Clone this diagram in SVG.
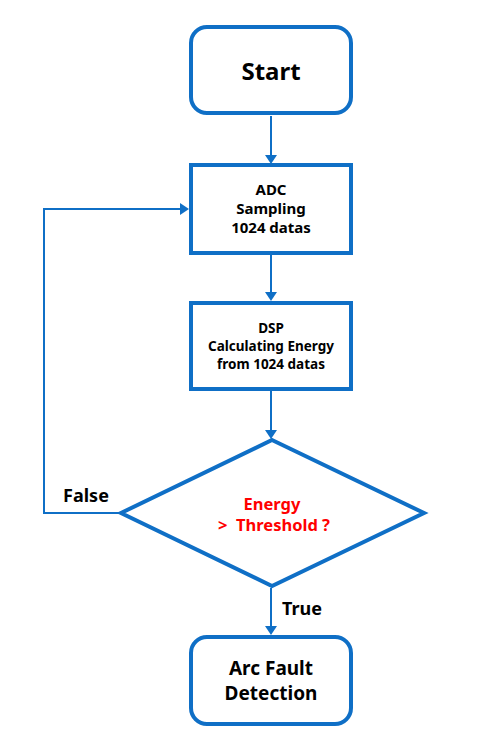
<svg xmlns="http://www.w3.org/2000/svg" width="497" height="742" viewBox="0 0 497 742">
<style>
.box{fill:#fff;stroke:#0F6FC6;stroke-width:4}
.ln{fill:none;stroke:#0F6FC6;stroke-width:2}
.ah{fill:#0F6FC6}
.red{fill:#FF0000}
text{font-family:"Noto Sans","Open Sans","Liberation Sans",sans-serif;font-weight:bold;text-anchor:middle;fill:#000}
</style>
<rect width="497" height="742" fill="#fff"/>
<g id="connectors">
<line class="ln" x1="271" y1="116" x2="271" y2="156"/>
<line class="ln" x1="271" y1="255" x2="271" y2="293"/>
<line class="ln" x1="271" y1="391" x2="271" y2="431"/>
<line class="ln" x1="271" y1="588" x2="271" y2="627"/>
<polyline class="ln" points="120,513 44,513 44,209 181,209"/>
<path class="ah" d="M265,155 L277,155 L271,164 z"/>
<path class="ah" d="M265,292 L277,292 L271,301 z"/>
<path class="ah" d="M265,430 L277,430 L271,439 z"/>
<path class="ah" d="M265,626 L277,626 L271,635 z"/>
<path class="ah" d="M180,203 L180,215 L189,209 z"/>
</g>
<g id="start">
<rect class="box" x="191" y="27" width="160" height="86" rx="16"/>
<text x="271" y="80" font-size="24">Start</text>
</g>
<g id="adc">
<rect class="box" x="191" y="165" width="160" height="88"/>
<text x="271" y="195" font-size="15">ADC</text>
<text x="271" y="214" font-size="15">Sampling</text>
<text x="271" y="233" font-size="15">1024 datas</text>
</g>
<g id="dsp">
<rect class="box" x="191" y="303" width="160" height="86"/>
<text x="271" y="333" font-size="13.5">DSP</text>
<text x="271" y="351" font-size="13.5">Calculating Energy</text>
<text x="271" y="369" font-size="13.5">from 1024 datas</text>
</g>
<g id="decision">
<polygon class="box" points="272,440 424,513 272,586 121,513"/>
<text class="red" x="272" y="510" font-size="16.5">Energy</text>
<text class="red" x="274" y="531" font-size="16.5" xml:space="preserve">&gt;  Threshold ?</text>
</g>
<g id="arc">
<rect class="box" x="191" y="637" width="160" height="87" rx="16"/>
<text x="271" y="675" font-size="19">Arc Fault</text>
<text x="271" y="700" font-size="19">Detection</text>
</g>
<g id="labels">
<text x="86" y="502" font-size="18">False</text>
<text x="302" y="615" font-size="18">True</text>
</g>
</svg>
